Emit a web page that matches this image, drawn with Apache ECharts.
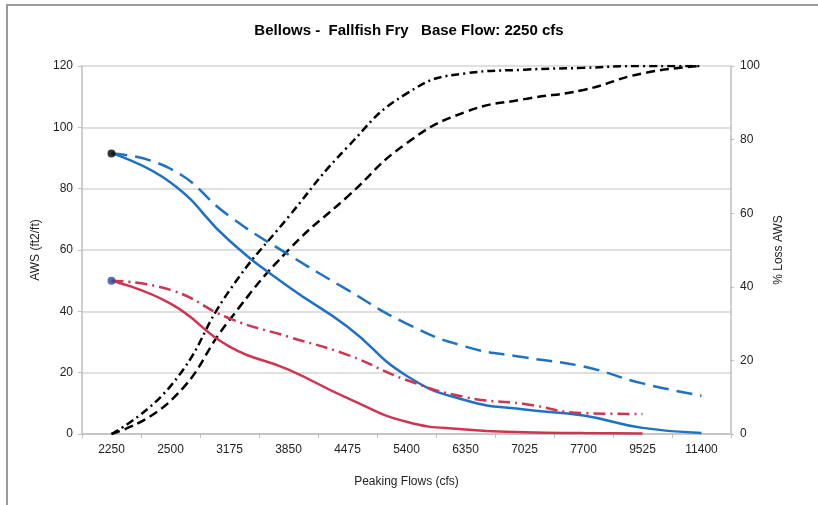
<!DOCTYPE html>
<html>
<head>
<meta charset="utf-8">
<script src="https://cdn.jsdelivr.net/npm/echarts@6/dist/echarts.min.js"></script>
<style>
  body { margin: 0; background: #fff; overflow: hidden; }
  #frame { position: absolute; left: 6px; top: 4px; width: 900px; height: 600px; border: 2px solid #9a9a9a; }
  #chart { position: absolute; left: 0; top: 0; width: 818px; height: 505px; }
</style>
</head>
<body>
<div id="frame"></div>
<div id="chart"></div>
<script>
// peaking flows (cfs)
const flows = ['2250', '2500', '3175', '3850', '4475', '5400', '6350', '7025', '7700', '9525', '11400']
// AWS (ft2/ft), left axis
const awsBlue = [91.5, 82, 63, 48, 35, 19, 11, 8, 6, 2, 0.3]
const awsBlueDash = [91.5, 86.5, 71, 58.5, 47, 36, 28.5, 25, 22, 16.5, 12.5]
const awsRed = [50, 42.5, 28.5, 21, 11.7, 4, 1.5, 0.6, 0.3, 0.2]
const awsRedDash = [50, 47, 37.7, 31.7, 25.8, 17.6, 12, 9.8, 6.8, 6.5]
// % loss AWS, right axis
const lossDash = [0, 9, 31, 50, 64.5, 79, 87.5, 91, 93.5, 98, 100]
const lossDashDot = [0, 13, 39, 59, 78, 92.5, 98, 99, 99.5, 100, 100]
// axis ticks
const leftTicks = [0, 20, 40, 60, 80, 100, 120]
const rightTicks = [0, 20, 40, 60, 80, 100]

const font = '"Liberation Sans Narrow", "Liberation Sans", Arial, sans-serif'
const blue = '#1f72c2'
const red = '#cf3551'

const chart = echarts.init(document.getElementById('chart'))

function line(name, data, color, dash, axis) {
  return {
    name: name,
    type: 'line',
    yAxisIndex: axis,
    data: data,
    smooth: 0.5,
    symbol: 'none',
    lineStyle: { color: color, width: 2.5, type: dash },
    z: 3
  }
}

chart.setOption({
  animation: false,
  title: {
    text: 'Bellows -  Fallfish Fry   Base Flow: 2250 cfs',
    left: 'center',
    top: 18,
    textStyle: { fontFamily: font, fontSize: 15, fontWeight: 'bold', color: '#000' }
  },
  grid: { left: 82, right: 87, top: 66, bottom: 71 },
  xAxis: {
    type: 'category',
    data: flows,
    boundaryGap: true,
    name: 'Peaking Flows (cfs)',
    nameLocation: 'middle',
    nameGap: 42,
    nameTextStyle: { fontFamily: font, fontSize: 12, color: '#222' },
    axisLine: { lineStyle: { color: '#bfbfbf', width: 1.5 } },
    axisTick: { show: true, interval: 0, length: 4, lineStyle: { color: '#bfbfbf' } },
    axisLabel: { fontFamily: font, fontSize: 12, color: '#222', margin: 10, interval: 0 }
  },
  yAxis: [{
    type: 'value',
    min: leftTicks[0],
    max: leftTicks[leftTicks.length - 1],
    interval: 20,
    name: 'AWS (ft2/ft)',
    nameLocation: 'middle',
    nameGap: 36,
    nameRotate: 90,
    nameTextStyle: { fontFamily: font, fontSize: 12, color: '#222' },
    axisLine: { show: true, lineStyle: { color: '#bfbfbf', width: 1.5 } },
    axisTick: { show: true, length: 4, lineStyle: { color: '#bfbfbf' } },
    splitLine: { lineStyle: { color: '#d4d4d4', width: 1.5 } },
    axisLabel: { fontFamily: font, fontSize: 12, color: '#222', margin: 9 }
  }, {
    type: 'value',
    position: 'right',
    min: rightTicks[0],
    max: rightTicks[rightTicks.length - 1],
    interval: 20,
    name: '% Loss AWS',
    nameLocation: 'middle',
    nameGap: 42,
    nameRotate: 90,
    nameTextStyle: { fontFamily: font, fontSize: 12, color: '#222' },
    axisLine: { show: true, lineStyle: { color: '#bfbfbf', width: 1.5 } },
    axisTick: { show: true, length: 3, lineStyle: { color: '#bfbfbf' } },
    splitLine: { show: false },
    axisLabel: { fontFamily: font, fontSize: 12, color: '#222', margin: 9 }
  }],
  series: [
    line('% Loss dash-dot', lossDashDot, '#000', [8, 4, 2, 4], 1),
    line('% Loss dashed', lossDash, '#000', [9, 5], 1),
    line('AWS blue dashed', awsBlueDash, blue, [16, 8], 0),
    line('AWS blue', awsBlue, blue, 'solid', 0),
    line('AWS red dash-dot', awsRedDash, red, [12, 5, 2, 5], 0),
    line('AWS red', awsRed, red, 'solid', 0),
    {
      type: 'scatter',
      data: [[flows[0], awsBlue[0]]],
      symbolSize: 8,
      itemStyle: { color: '#000' },
      z: 5
    },
    {
      type: 'scatter',
      data: [[flows[0], awsRed[0]]],
      symbolSize: 8,
      itemStyle: { color: '#2a4a9a' },
      z: 5
    }
  ]
})
</script>
</body>
</html>
